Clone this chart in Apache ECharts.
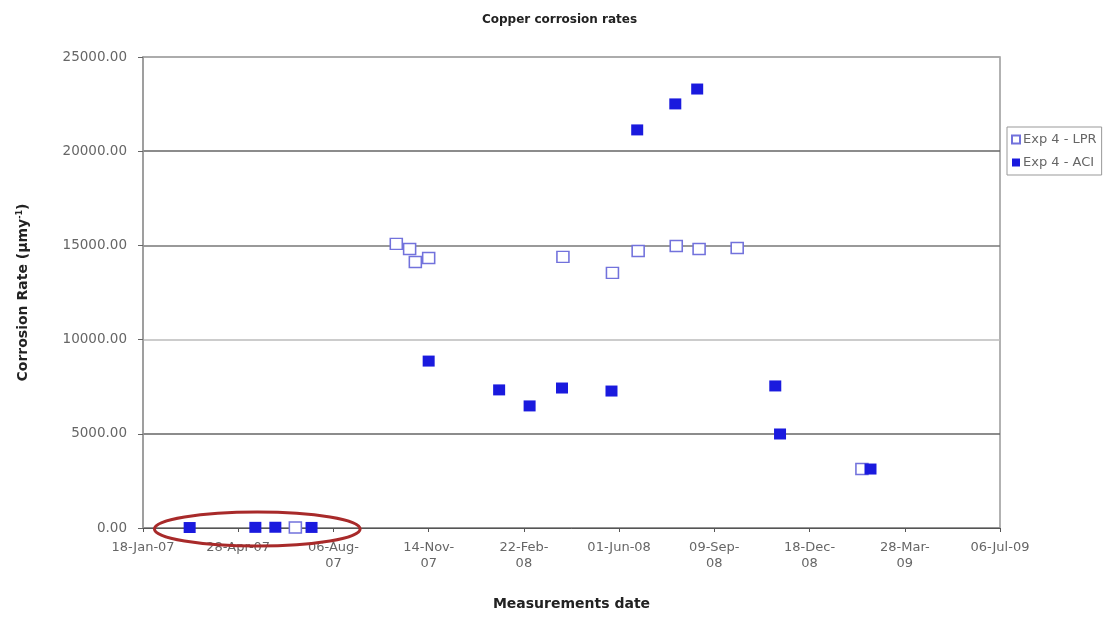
<!DOCTYPE html>
<html>
<head>
<meta charset="UTF-8">
<title>Copper corrosion rates</title>
<script src="https://cdn.jsdelivr.net/npm/echarts@6/dist/echarts.min.js"></script>
<style>
html, body { margin: 0; padding: 0; background: #fff; }
#main { width: 1119px; height: 617px; }
</style>
</head>
<body>
<div id="main"></div>
<script type="text/javascript">
// x axis runs in days from startDate, one tick per 100 days (like the Excel date axis)
var startDate = '2007-01-18';
var tickLabels = ['18-Jan-07', '28-Apr-07', '06-Aug-\n07', '14-Nov-\n07', '22-Feb-\n08',
	'01-Jun-08', '09-Sep-\n08', '18-Dec-\n08', '28-Mar-\n09', '06-Jul-09'];

// Exp 4 - LPR (open squares)
var lprDates = ['2007-06-27', '2007-10-11', '2007-10-25', '2007-10-31', '2007-11-14', '2008-04-03',
	'2008-05-25', '2008-06-21', '2008-07-31', '2008-08-24', '2008-10-03', '2009-02-11'];
var lprValues = [30, 15080, 14810, 14120, 14330, 14390, 13540, 14700, 14970, 14810, 14860, 3130];

// Exp 4 - ACI (filled squares)
var aciDates = ['2007-03-08', '2007-05-16', '2007-06-06', '2007-07-14', '2007-11-14', '2008-01-27',
	'2008-02-28', '2008-04-02', '2008-05-24', '2008-06-20', '2008-07-30', '2008-08-22',
	'2008-11-12', '2008-11-17', '2009-02-20'];
var aciValues = [25, 35, 40, 30, 8860, 7330, 6480, 7430, 7270, 21130, 22510, 23300, 7540, 4990, 3130];

// red ring drawn round the first points (day range)
var ringDays = [12, 228];

function dayOf(s) {
	return (Date.parse(s) - Date.parse(startDate)) / 86400000;
}
function pairs(dates, values) {
	var out = [];
	for (var i = 0; i < dates.length; i++) {
		out.push([dayOf(dates[i]), values[i]]);
	}
	return out;
}

var font = 'DejaVu Sans';
var chart = echarts.init(document.getElementById('main'));
var option = {
	animation: false,
	backgroundColor: '#fff',
	title: {
		text: 'Copper corrosion rates',
		left: 'center',
		top: 9,
		textStyle: { fontFamily: font, fontSize: 12, fontWeight: 'bold', color: '#222' }
	},
	legend: {
		orient: 'vertical',
		left: 1007,
		top: 127,
		padding: [6, 5, 6, 4],
		itemGap: 10,
		itemWidth: 8,
		itemHeight: 8,
		borderColor: '#999',
		borderWidth: 1,
		textStyle: { fontFamily: font, fontSize: 13, color: '#666', padding: [0, 0, 0, -2] },
		data: ['Exp 4 - LPR', 'Exp 4 - ACI']
	},
	grid: {
		left: 143, right: 119, top: 57, bottom: 89,
		show: true,
		borderColor: '#999',
		borderWidth: 1.5
	},
	xAxis: {
		type: 'value',
		min: 0,
		max: 900,
		interval: 100,
		name: 'Measurements date',
		nameLocation: 'middle',
		nameGap: 69,
		nameTextStyle: { fontFamily: font, fontSize: 14, fontWeight: 'bold', color: '#222' },
		axisLine: { lineStyle: { color: '#555', width: 1 } },
		axisTick: { show: true, length: 4, lineStyle: { color: '#555' } },
		splitLine: { show: false },
		axisLabel: {
			fontFamily: font,
			fontSize: 13,
			color: '#666',
			lineHeight: 16,
			margin: 12,
			formatter: function (v) { return tickLabels[Math.round(v / 100)]; }
		}
	},
	yAxis: {
		type: 'value',
		min: 0,
		max: 25000,
		interval: 5000,
		name: 'Corrosion Rate (µmy{sup|-1})',
		nameLocation: 'middle',
		nameGap: 112,
		nameTextStyle: {
			fontFamily: font, fontSize: 14, fontWeight: 'bold', color: '#222',
			rich: { sup: { fontFamily: font, fontSize: 8, fontWeight: 'bold', color: '#222', verticalAlign: 'top', padding: [0, 0, 7, 0] } }
		},
		axisLine: { show: true, lineStyle: { color: '#999', width: 1.5 } },
		axisTick: { show: true, length: 5, lineStyle: { color: '#666' } },
		splitLine: { show: true, lineStyle: { color: ['#888', '#666', '#bbb', '#777', '#666', '#aaa'], width: 1.5 } },
		axisLabel: {
			fontFamily: font,
			fontSize: 13.5,
			color: '#666',
			margin: 16,
			formatter: function (v) { return v.toFixed(2); }
		}
	},
	series: [
		{
			name: 'Exp 4 - LPR',
			type: 'scatter',
			symbol: 'rect',
			symbolSize: [12, 11],
			itemStyle: { color: '#fff', borderColor: '#7272dc', borderWidth: 1.5, opacity: 1 },
			data: pairs(lprDates, lprValues),
			z: 2
		},
		{
			name: 'Exp 4 - ACI',
			type: 'scatter',
			symbol: 'rect',
			symbolSize: [12, 11],
			itemStyle: { color: '#1a1ade', opacity: 1 },
			data: pairs(aciDates, aciValues),
			z: 3
		}
	]
};
chart.setOption(option);

// ring round the early points
var a = chart.convertToPixel({ gridIndex: 0 }, [ringDays[0], 0]);
var b = chart.convertToPixel({ gridIndex: 0 }, [ringDays[1], 0]);
chart.setOption({
	graphic: [{
		type: 'ellipse',
		shape: { cx: (a[0] + b[0]) / 2, cy: a[1] + 1, rx: (b[0] - a[0]) / 2, ry: 17 },
		style: { fill: null, stroke: '#a82a2a', lineWidth: 3 },
		z: 10
	}]
});
</script>
</body>
</html>
